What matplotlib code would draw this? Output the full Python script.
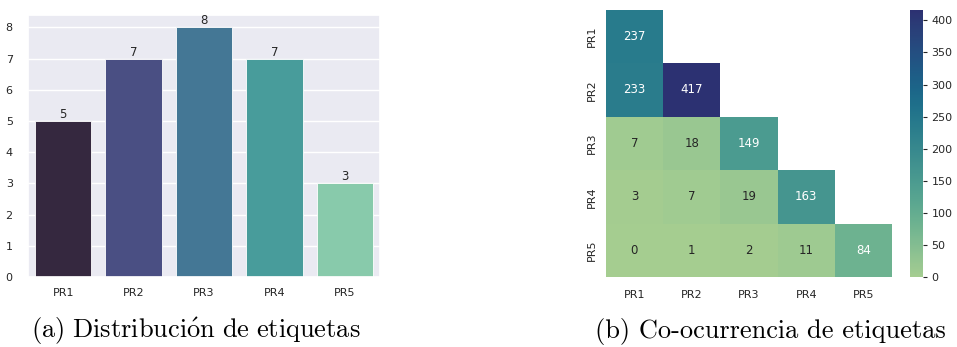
import numpy as np
import matplotlib
matplotlib.use("Agg")
import matplotlib.pyplot as plt
import seaborn as sns

# Label counts per class
labels = ["PR1", "PR2", "PR3", "PR4", "PR5"]
counts = [5, 7, 8, 7, 3]

# Co-occurrence counts (lower triangle, row by row)
cooc_rows = [
    [237],
    [233, 417],
    [7, 18, 149],
    [3, 7, 19, 163],
    [0, 1, 2, 11, 84],
]

bar_colors = ["#35283f", "#4a4f83", "#447795", "#489c9b", "#88caab"]

sns.set_theme(style="darkgrid")
plt.rcParams["font.family"] = ["DejaVu Sans"]
plt.rcParams["mathtext.fontset"] = "cm"
text_color = "#262626"

fig = plt.figure(figsize=(9.57, 3.47), dpi=100)

# ---- (a) bar chart ----
ax1 = fig.add_axes([28 / 957, 1 - 277 / 347, 352 / 957, 262 / 347])
x = np.arange(len(labels))
bars = ax1.bar(x, counts, width=0.8, color=bar_colors, edgecolor="white", linewidth=0.6)
ax1.bar_label(bars, labels=[str(c) for c in counts], fontsize=8.5, color=text_color, padding=0)
ax1.set_xticks(x)
ax1.set_xticklabels(labels)
ax1.set_xlim(-0.5, len(labels) - 0.5)
ax1.set_ylim(0, 8.4)
ax1.set_yticks(range(0, 9))
ax1.grid(axis="x", visible=False)
ax1.tick_params(axis="x", labelsize=8, colors=text_color, length=0, pad=8)
ax1.tick_params(axis="y", labelsize=8, colors=text_color, length=0, pad=11)

# ---- (b) co-occurrence heatmap ----
n = len(labels)
mat = np.zeros((n, n), dtype=int)
for i, row in enumerate(cooc_rows):
    mat[i, :len(row)] = row
mask = np.triu(np.ones((n, n), dtype=bool), k=1)

ax2 = fig.add_axes([605.7 / 957, 1 - 277 / 347, 286.6 / 957, 267.5 / 347])
cax = fig.add_axes([910 / 957, 1 - 277 / 347, 13 / 957, 267.5 / 347])
ax2.set_facecolor("white")
sns.heatmap(mat, mask=mask, cmap="crest", annot=True, fmt="d",
            annot_kws={"fontsize": 8.5}, ax=ax2, cbar_ax=cax,
            xticklabels=labels, yticklabels=labels)
ax2.grid(False)
ax2.tick_params(axis="x", labelsize=8, colors=text_color, length=0, pad=9)
ax2.tick_params(axis="y", labelsize=8, colors=text_color, length=0, pad=6)
ax2.set_yticklabels(labels, rotation=90, va="center")
ax2.set_xticklabels(labels, rotation=0)
cax.set_yticks(range(0, 401, 50))
cax.tick_params(labelsize=8, colors=text_color, length=3, width=0.8, pad=3)
for s in cax.spines.values():
    s.set_visible(False)

# ---- captions ----
fig.text(196 / 957, 9 / 347, r"$\mathrm{(a)\ Distribuci\acute{o}n\ de\ etiquetas}$",
         ha="center", va="baseline", fontsize=19, color="black")
fig.text(770 / 957, 9 / 347, "(b) Co-ocurrencia de etiquetas",
         ha="center", va="baseline", fontsize=19, color="black",
         family=["cmr10", "DejaVu Serif"])

fig.savefig("out.png", dpi=100)
